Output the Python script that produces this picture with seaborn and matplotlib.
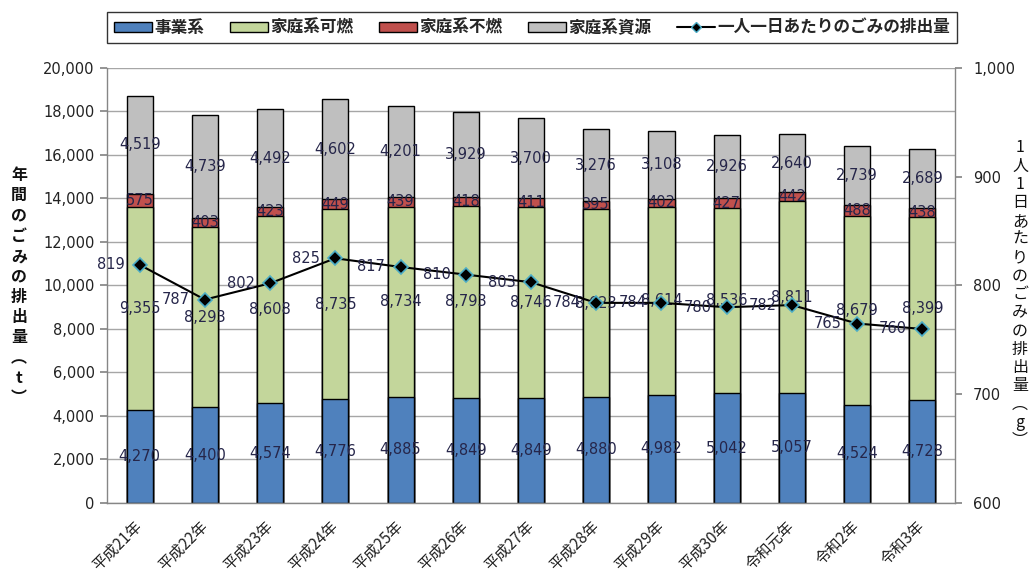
import numpy as np
import pandas as pd
import matplotlib
matplotlib.use("Agg")
import matplotlib.pyplot as plt
from matplotlib.patches import Patch
from matplotlib.lines import Line2D
from matplotlib.ticker import FuncFormatter, MultipleLocator, FixedLocator
import seaborn as sns

# ---- data ----
years = ["平成21年", "平成22年", "平成23年", "平成24年", "平成25年", "平成26年", "平成27年",
         "平成28年", "平成29年", "平成30年", "令和元年", "令和2年", "令和3年"]
business = [4270, 4400, 4574, 4776, 4885, 4849, 4849, 4880, 4982, 5042, 5057, 4524, 4728]
home_burnable = [9355, 8293, 8608, 8735, 8734, 8793, 8746, 8623, 8614, 8536, 8811, 8679, 8399]
home_nonburnable = [575, 403, 423, 449, 439, 418, 411, 395, 402, 427, 442, 488, 438]
home_resource = [4519, 4739, 4492, 4602, 4201, 3929, 3700, 3276, 3108, 2926, 2640, 2739, 2689]
per_capita = [819, 787, 802, 825, 817, 810, 803, 784, 784, 780, 782, 765, 760]

series_names = ["事業系", "家庭系可燃", "家庭系不燃", "家庭系資源"]
line_name = "一人一日あたりのごみの排出量"
left_title = "年間のごみの排出量︵t︶"
right_title = "1人1日あたりのごみの排出量︵g︶"

# ---- styling ----
colors = ["#4F81BD", "#C3D69B", "#C0504D", "#BFBFBF"]
marker_edge = "#4BACC6"
label_color = "#26264A"
tick_color = "#222222"
grid_color = "#A6A6A6"
axis_color = "#868686"
num_font = "DejaVu Sans"

sns.set_theme(style="white")
plt.rcParams["font.family"] = ["Noto Sans CJK JP", "DejaVu Sans"]

layers = [business, home_burnable, home_nonburnable, home_resource]
df = pd.DataFrame({"year": years})
running = np.zeros(len(years))
bottoms = []
for k, vals in enumerate(layers):
    bottoms.append(running.copy())
    running = running + np.array(vals)
    df[f"cum{k}"] = running

fig = plt.figure(figsize=(10.34, 5.78), dpi=100)
ax = fig.add_axes([0.1035, 0.1298, 0.8201, 0.7526])

# stacked bars: draw cumulative totals from the top layer down
for k in reversed(range(len(layers))):
    sns.barplot(data=df, x="year", y=f"cum{k}", order=years, color=colors[k],
                saturation=1, width=0.4, edgecolor="black", linewidth=1.0,
                errorbar=None, ax=ax)

# segment value labels
for k, vals in enumerate(layers):
    for i, v in enumerate(vals):
        ax.text(i, bottoms[k][i] + v / 2, f"{v:,}", ha="center", va="center",
                fontsize=10.5, color=label_color, family=num_font)

ax.set_ylim(0, 20000)
ax.yaxis.set_major_locator(MultipleLocator(2000))
ax.yaxis.set_major_formatter(FuncFormatter(lambda v, _: f"{v:,.0f}"))
ax.set_xlabel("")
ax.set_ylabel("")
ax.yaxis.grid(True, color=grid_color, linewidth=1.0)
ax.xaxis.grid(False)
ax.set_axisbelow(True)
for s in ["top", "right"]:
    ax.spines[s].set_visible(False)
for s in ["left", "bottom"]:
    ax.spines[s].set_color(axis_color)
    ax.spines[s].set_linewidth(1.0)

# per-capita line on the secondary axis
ax2 = ax.twinx()
sns.pointplot(x=years, y=per_capita, order=years, color="black", markers="D",
              linestyles="-", errorbar=None, linewidth=1.5, markersize=7,
              markeredgewidth=1.2, markeredgecolor=marker_edge, ax=ax2)
for ln in ax2.lines:
    ln.set_markeredgecolor(marker_edge)
    ln.set_markerfacecolor("black")
for i, v in enumerate(per_capita):
    ax2.annotate(f"{v}", (i, v), xytext=(-11, 0), textcoords="offset points",
                 ha="right", va="center", fontsize=10.5, color=label_color,
                 family=num_font)
ax2.set_ylim(600, 1000)
ax2.yaxis.set_major_locator(MultipleLocator(100))
ax2.yaxis.set_major_formatter(FuncFormatter(lambda v, _: f"{v:,.0f}"))
ax2.set_ylabel("")
ax2.set_xlabel("")
ax2.grid(False)
for s in ["top", "left", "bottom"]:
    ax2.spines[s].set_visible(False)
ax2.spines["right"].set_color(axis_color)
ax2.spines["right"].set_linewidth(1.0)

# x axis: labels at category centres, tick marks at category boundaries
n = len(years)
ax.set_xlim(-0.5, n - 0.5)
ax.xaxis.set_major_locator(FixedLocator(np.arange(n)))
ax.set_xticklabels(years, rotation=45, ha="right", va="center",
                   rotation_mode="anchor", fontsize=11, color=tick_color)
ax.xaxis.set_minor_locator(FixedLocator(np.arange(n + 1) - 0.5))
ax.tick_params(axis="x", which="major", length=0, pad=15)
ax.tick_params(axis="x", which="minor", length=5, color=axis_color, direction="out")
ax.tick_params(axis="y", length=5, color=axis_color, direction="out", left=True,
               labelsize=10.5, labelcolor=tick_color, pad=4)
ax2.tick_params(axis="y", length=5, color=axis_color, direction="out", right=True,
                labelsize=10.5, labelcolor=tick_color, pad=8)
for lab in ax.get_yticklabels() + ax2.get_yticklabels():
    lab.set_family(num_font)

# vertical axis titles, one character per row
y0 = 1 - 175 / 578
dy = 20.3 / 578
for k, ch in enumerate(left_title):
    fig.text(0.0185, y0 - k * dy, ch, ha="center", va="center", fontsize=11.5,
             fontweight="bold", color="#111111")
y0 = 1 - 148 / 578
dy = 18.3 / 578
for k, ch in enumerate(right_title):
    fig.text(0.9865, y0 - k * dy, ch, ha="center", va="center", fontsize=11.5,
             color="#111111")

# legend
handles = [Patch(facecolor=c, edgecolor="black", linewidth=1.0) for c in colors]
handles.append(Line2D([0], [0], color="black", linewidth=1.5, marker="D",
                      markersize=5.5, markerfacecolor="black",
                      markeredgecolor=marker_edge))
leg = fig.legend(handles, series_names + [line_name], loc="lower left",
                 bbox_to_anchor=(0.1035, 0.925, 0.822, 0.054), mode="expand",
                 ncol=5, frameon=True, fancybox=False, borderaxespad=0,
                 prop={"size": 12, "weight": "bold"}, handlelength=2.3,
                 handleheight=0.5, handletextpad=0.15, borderpad=0.4)
leg.get_frame().set_edgecolor("black")
leg.get_frame().set_linewidth(1.0)

fig.savefig("out.png", dpi=100)
